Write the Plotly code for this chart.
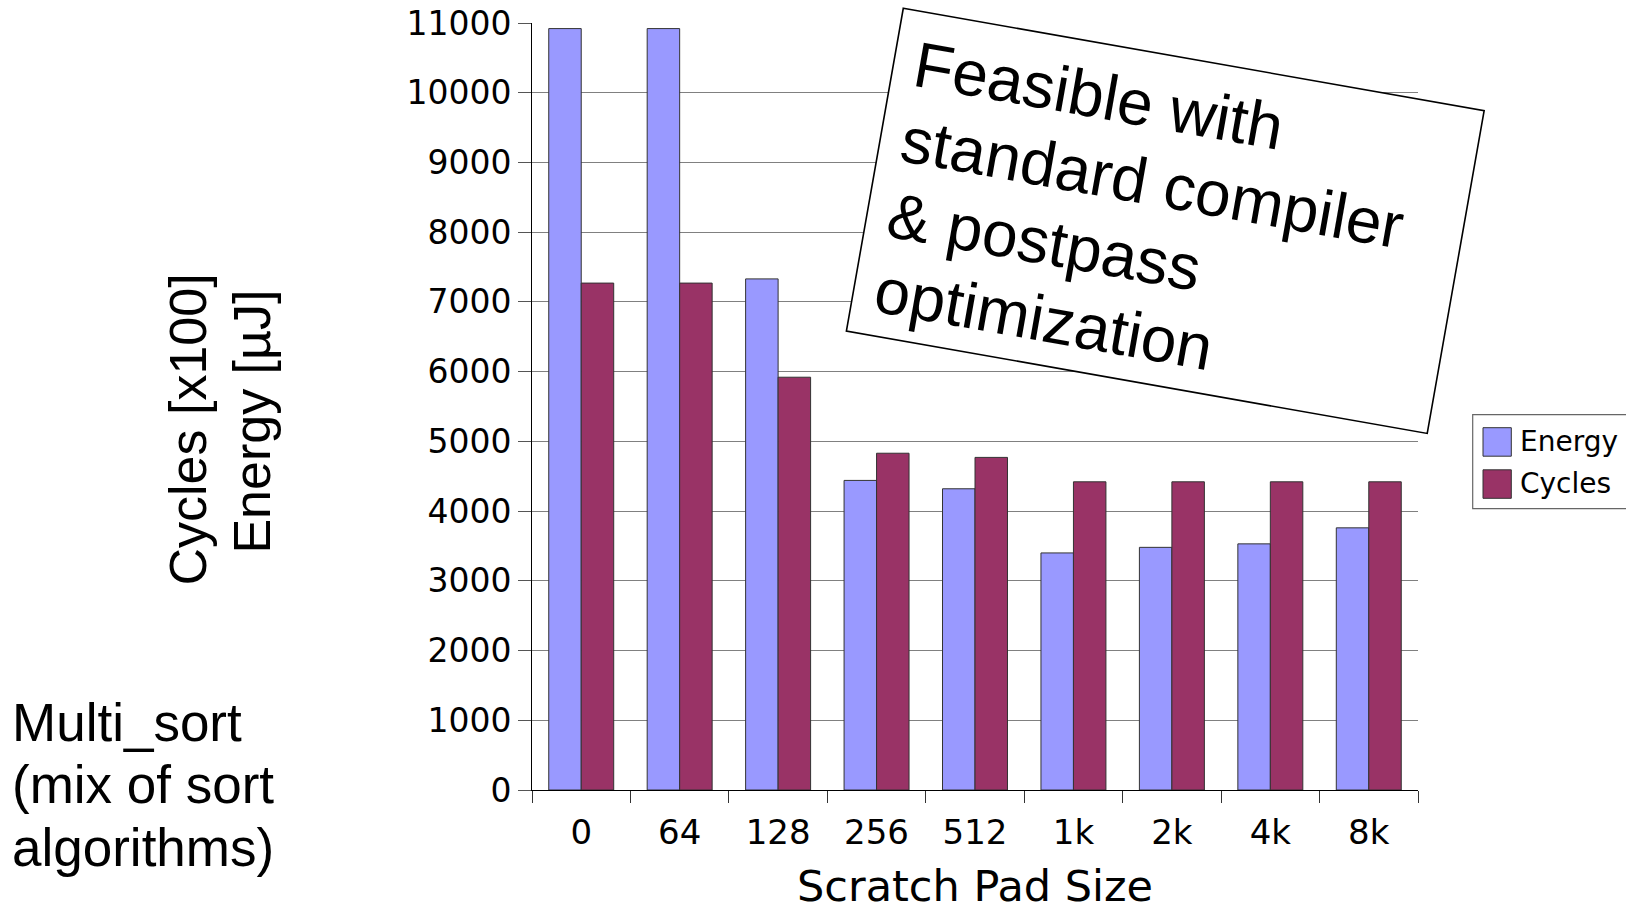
import math
import plotly.graph_objects as go

# Scratch pad sizes and measured results (Multi_sort benchmark)
sizes = ["0", "64", "128", "256", "512", "1k", "2k", "4k", "8k"]
energy_uj = [10920, 10920, 7330, 4440, 4320, 3400, 3480, 3530, 3760]
cycles_x100 = [7270, 7270, 5920, 4830, 4770, 4420, 4420, 4420, 4420]

y_ticks = list(range(0, 11001, 1000))
y_tick_text = [str(v) for v in y_ticks]

ENERGY_COLOR = "#9999ff"
CYCLES_COLOR = "#993366"
CHART_FONT = "DejaVu Sans"
SLIDE_FONT = "Liberation Sans, Arial"

W, H = 1626, 911
ML, MR, MT, MB = 532, 208, 23, 121
PW, PH = W - ML - MR, H - MT - MB


def to_paper(px, py):
    """Convert page pixel coordinates to paper coordinates."""
    return (px - ML) / PW, 1 - (py - MT) / PH


fig = go.Figure()
fig.add_trace(go.Bar(
    x=sizes, y=energy_uj, name="Energy",
    marker=dict(color=ENERGY_COLOR, line=dict(color="#333333", width=1)),
    showlegend=False,
))
fig.add_trace(go.Bar(
    x=sizes, y=cycles_x100, name="Cycles",
    marker=dict(color=CYCLES_COLOR, line=dict(color="#333333", width=1)),
    showlegend=False,
))

annotations = []
shapes = []

# Rotated call-out box with its four text lines
ang = math.radians(10)
U = (math.cos(ang), math.sin(ang))
V = (-math.sin(ang), math.cos(ang))
TL = (903.3, 8.3)
box_w, box_h = 589.8, 327.7


def frame(u, v):
    return TL[0] + u * U[0] + v * V[0], TL[1] + u * U[1] + v * V[1]


corners = [frame(0, 0), frame(box_w, 0), frame(box_w, box_h), frame(0, box_h)]
pts = [to_paper(*c) for c in corners]
path = "M " + " L ".join(f"{x:.5f},{y:.5f}" for x, y in pts) + " Z"
shapes.append(dict(type="path", xref="paper", yref="paper", path=path,
                   fillcolor="white", line=dict(color="black", width=1.6),
                   layer="above"))

callout_lines = [
    ("Feasible with", 208.2, 52.3),
    ("standard compiler", 275.8, 128.8),
    ("&amp; postpass", 179.8, 205.3),
    ("optimization", 192.2, 281.8),
]
for text, uc, vc in callout_lines:
    px, py = frame(uc, vc)
    x, y = to_paper(px, py)
    annotations.append(dict(
        text=text, x=x, y=y, xref="paper", yref="paper",
        xanchor="center", yanchor="middle", textangle=10, showarrow=False,
        font=dict(family=SLIDE_FONT, size=64, color="black"),
    ))

# Vertical axis caption (two rotated lines)
for text, px, py in [("Cycles [x100]", 187.5, 430), ("Energy [µJ]", 251.9, 421.7)]:
    x, y = to_paper(px, py)
    annotations.append(dict(
        text=text, x=x, y=y, xref="paper", yref="paper",
        xanchor="center", yanchor="middle", textangle=-90, showarrow=False,
        font=dict(family=SLIDE_FONT, size=52, color="black"),
    ))

# Benchmark description on the left
for text, py in [("Multi_sort", 722), ("(mix of sort", 784.7), ("algorithms)", 847)]:
    x, y = to_paper(10, py)
    annotations.append(dict(
        text=text, x=x, y=y, xref="paper", yref="paper",
        xanchor="left", yanchor="middle", showarrow=False,
        font=dict(family=SLIDE_FONT, size=53, color="black"),
    ))

# Legend box with large swatches
lx0, ly0 = to_paper(1472.7, 414.7)
lx1, ly1 = to_paper(1660, 508.7)
shapes.append(dict(type="rect", xref="paper", yref="paper",
                   x0=lx0, y0=ly0, x1=lx1, y1=ly1,
                   fillcolor="white", line=dict(color="#666666", width=1.2)))
for name, color, top in [("Energy", ENERGY_COLOR, 427.7), ("Cycles", CYCLES_COLOR, 469.8)]:
    sx0, sy0 = to_paper(1483, top)
    sx1, sy1 = to_paper(1511.3, top + 28.5)
    shapes.append(dict(type="rect", xref="paper", yref="paper",
                       x0=sx0, y0=sy0, x1=sx1, y1=sy1,
                       fillcolor=color, line=dict(color="#333333", width=1)))
    tx, ty = to_paper(1518, top + 14)
    annotations.append(dict(
        text=name, x=tx, y=ty, xref="paper", yref="paper",
        xanchor="left", yanchor="middle", showarrow=False,
        font=dict(family=CHART_FONT, size=28, color="black"),
    ))

fig.update_layout(
    width=W, height=H,
    margin=dict(l=ML, r=MR, t=MT, b=MB, autoexpand=False),
    paper_bgcolor="white", plot_bgcolor="white",
    barmode="group", bargap=0.34, bargroupgap=0,
    font=dict(family=CHART_FONT, color="black"),
    xaxis=dict(
        type="category", range=[-0.5, 8.5],
        showline=True, linecolor="black", linewidth=1,
        ticks="outside", tickson="boundaries", ticklen=12,
        tickcolor="#333333", tickwidth=1,
        ticklabelstandoff=12,
        showgrid=False, zeroline=False,
        tickfont=dict(family=CHART_FONT, size=34, color="black"),
        title=dict(text="Scratch Pad Size", standoff=27,
                   font=dict(family=CHART_FONT, size=43, color="black")),
    ),
    yaxis=dict(
        range=[0, 11000], tickmode="array", tickvals=y_ticks, ticktext=y_tick_text,
        showline=True, linecolor="black", linewidth=1,
        showgrid=True, gridcolor="#808080", gridwidth=1,
        ticks="outside", ticklen=13, tickcolor="#555555",
        zeroline=False,
        tickfont=dict(family=CHART_FONT, size=33, color="black"),
    ),
    shapes=shapes,
    annotations=annotations,
)

fig.write_html("out.html")
